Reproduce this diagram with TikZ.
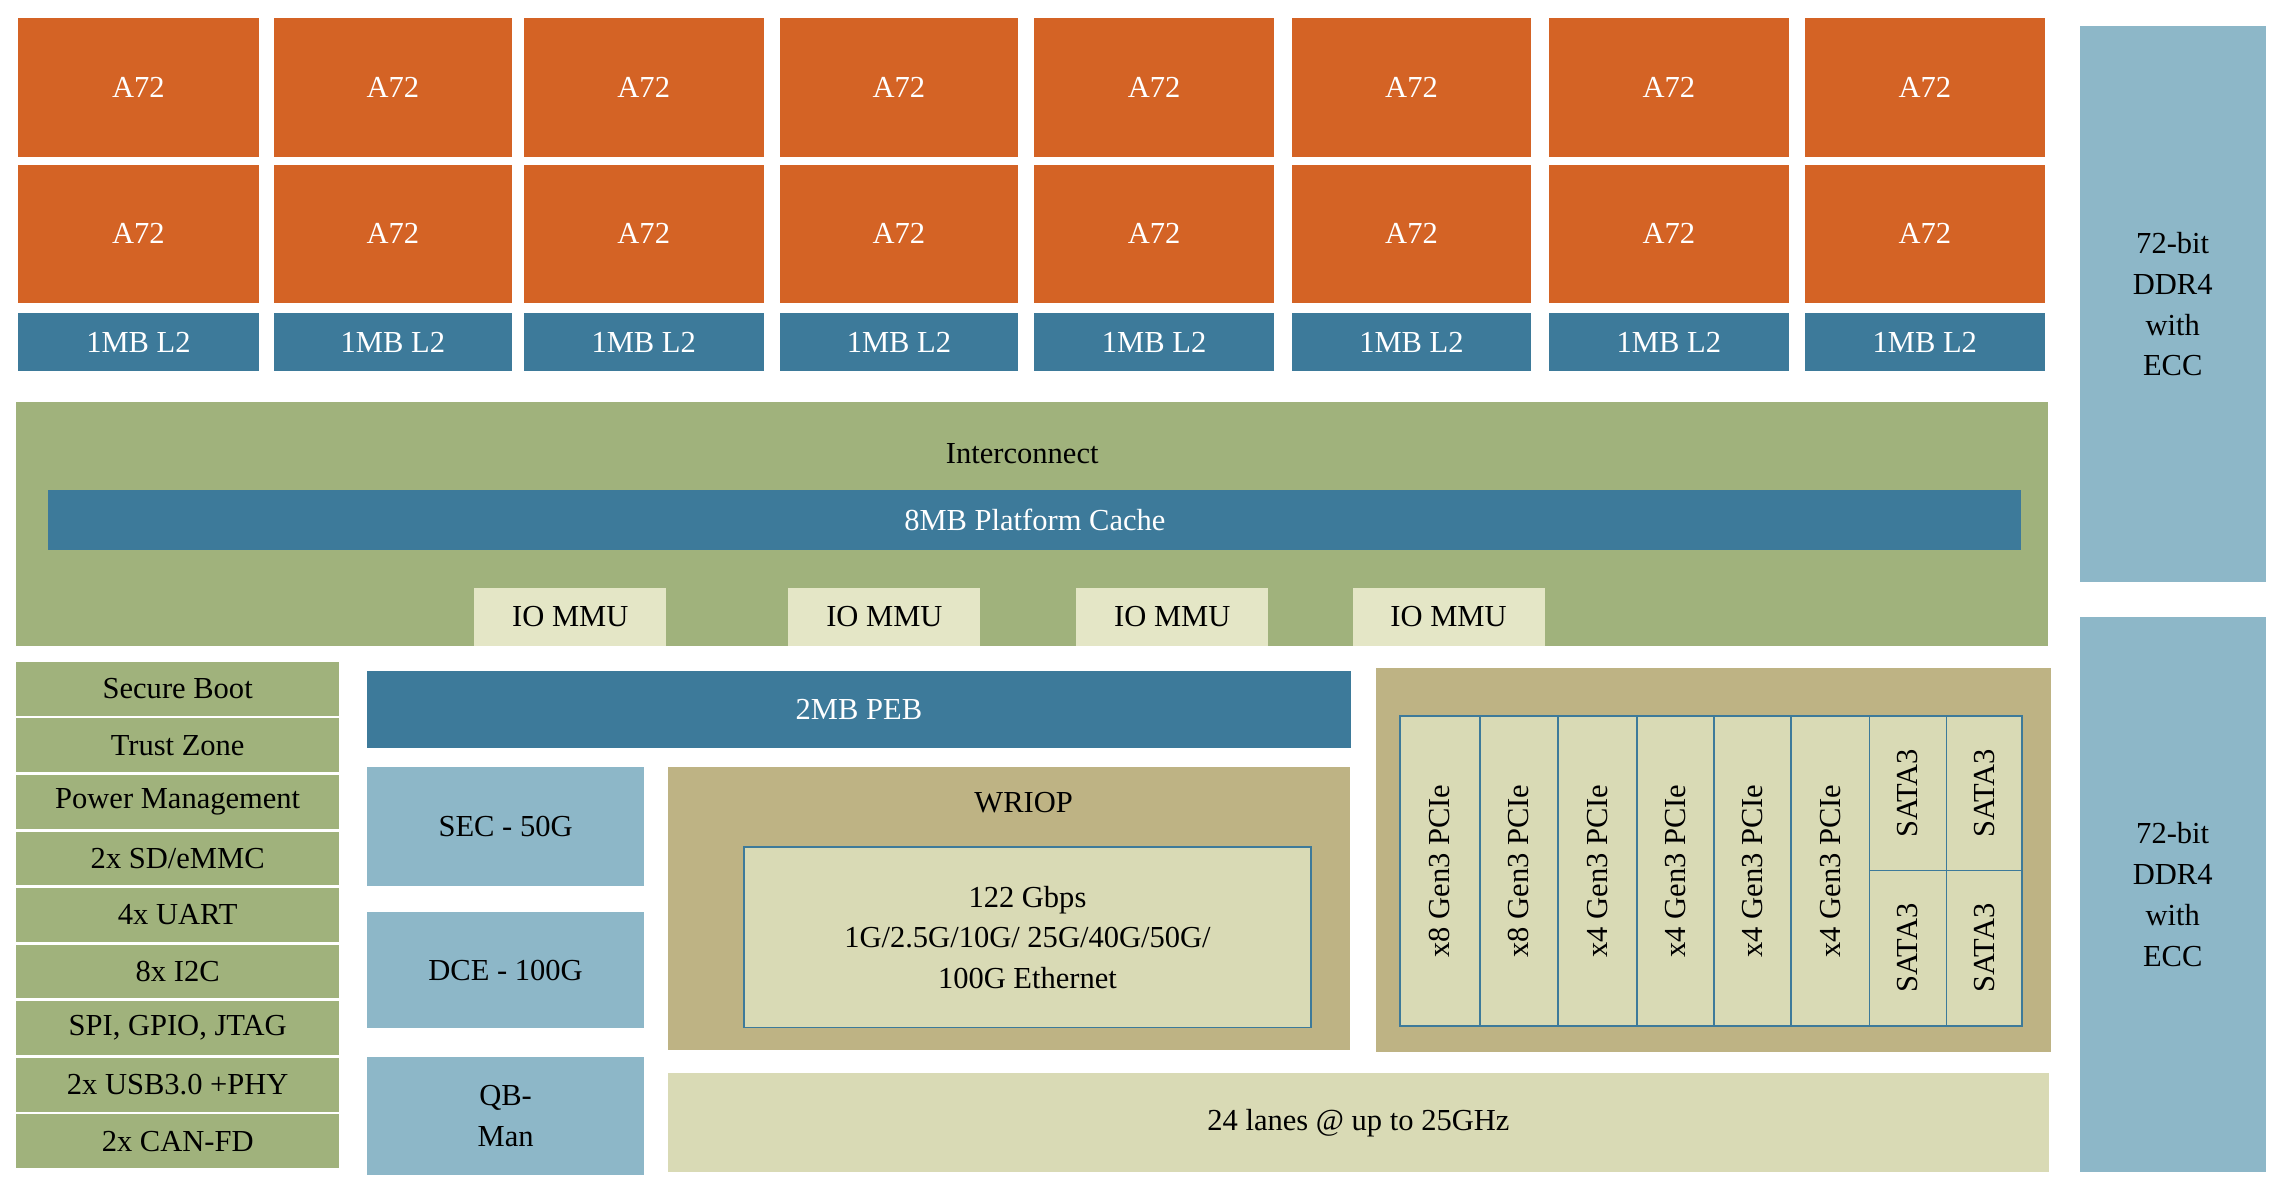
\documentclass[tikz,border=0pt]{standalone}
\usepackage{fontspec}
\setmainfont{Liberation Serif}
\definecolor{coreorange}{HTML}{D46325}
\definecolor{cacheblue}{HTML}{3D7A9A}
\definecolor{fabgreen}{HTML}{A0B27C}
\definecolor{mmucream}{HTML}{E4E6C6}
\definecolor{accblue}{HTML}{8DB7C8}
\definecolor{iotan}{HTML}{BEB384}
\definecolor{laneyel}{HTML}{D9DAB5}
\definecolor{ddrblue}{HTML}{8DB7C8}
\tikzset{
  blk/.style={inner sep=0pt, anchor=north west, align=center, font=\fontsize{21}{28}\selectfont},
  core/.style={blk, fill=coreorange, text=white},
  cache/.style={blk, fill=cacheblue, text=white},
  fab/.style={blk, fill=fabgreen},
  mmu/.style={blk, fill=mmucream},
  acc/.style={blk, fill=accblue},
  lane/.style={blk, fill=laneyel, draw=cacheblue, line width=1.2pt}
}
% box from (x1,y1) to (x2,y2)
\newcommand\blkat[7]{\node[#2, minimum width={(#5-#3)*1pt}, minimum height={(#6-#4)*1pt}] (#1) at (#3,#4) {#7};}
\begin{document}
\begin{tikzpicture}[x=1pt,y=-1pt]
\useasboundingbox (0,0) rectangle (1568,822);
% cores
\foreach \xa/\xb [count=\i] in {12/178,188/352,360/525,536/700,711/876,888/1053,1065/1230,1241/1406}{
  \blkat{core-a\i}{core}{\xa}{12}{\xb}{108}{A72}
  \blkat{core-b\i}{core}{\xa}{113}{\xb}{208}{A72}
  \blkat{l2-\i}{cache}{\xa}{215}{\xb}{255}{1MB L2}
}
% memory
\blkat{ddr1}{acc}{1430}{18}{1558}{400}{72-bit\\DDR4\\with\\ECC}
\blkat{ddr2}{acc}{1430}{424}{1558}{806}{72-bit\\DDR4\\with\\ECC}
% interconnect
\blkat{ic}{fab}{11}{276}{1408}{444}{}
\node[font=\fontsize{21}{28}\selectfont] (ictext) at (703,312) {Interconnect};
\blkat{plc}{cache}{33}{337}{1390}{378}{8MB Platform Cache}
\foreach \xa/\xb [count=\i] in {326/458,542/674,740/872,930/1062}{
  \blkat{mmu\i}{mmu}{\xa}{404}{\xb}{444}{IO MMU}
}
% peripherals list
\foreach \t [count=\i] in {Secure Boot,Trust Zone,Power Management,2x SD/eMMC,4x UART,8x I2C,{SPI, GPIO, JTAG},2x USB3.0 +PHY,2x CAN-FD}{
  \pgfmathsetmacro\ya{455+(\i-1)*38.9}
  \pgfmathsetmacro\yb{\ya+36.9}
  \blkat{per\i}{fab}{11}{\ya}{233}{\yb}{\t}
}
% accelerators
\blkat{peb}{cache}{252}{461}{929}{514}{2MB PEB}
\blkat{sec}{acc}{252}{527}{443}{609}{SEC - 50G}
\blkat{dce}{acc}{252}{627}{443}{707}{DCE - 100G}
\blkat{qbm}{acc}{252}{727}{443}{808}{QB-\\Man}
% WRIOP
\blkat{wriop}{blk,fill=iotan}{459}{527}{928}{722}{}
\node[font=\fontsize{21}{28}\selectfont] (wrtext) at (704,552) {WRIOP};
\blkat{eth}{lane}{511}{582}{901}{706}{122 Gbps\\1G/2.5G/10G/ 25G/40G/50G/\\100G Ethernet}
\blkat{lanes}{mmu,fill=laneyel}{459}{738}{1409}{806}{24 lanes @ up to 25GHz}
% serdes
\blkat{serdes}{blk,fill=iotan}{946}{459}{1410}{723}{}
\foreach \xa/\xb/\t [count=\i] in {962/1017/x8 Gen3 PCIe,1017/1071/x8 Gen3 PCIe,1071/1125/x4 Gen3 PCIe,1125/1178/x4 Gen3 PCIe,1178/1231/x4 Gen3 PCIe,1231/1285/x4 Gen3 PCIe}{
  \blkat{pcie\i}{lane}{\xa}{492}{\xb}{705}{}
  \node[rotate=90, font=\fontsize{21}{28}\selectfont] at (pcie\i.center) {\t};
}
\foreach \xa/\xb [count=\i] in {1285/1338,1338/1390}{
  \blkat{sata-a\i}{lane}{\xa}{492}{\xb}{598}{}
  \node[rotate=90, font=\fontsize{21}{28}\selectfont] at (sata-a\i.center) {SATA3};
  \blkat{sata-b\i}{lane}{\xa}{598}{\xb}{705}{}
  \node[rotate=90, font=\fontsize{21}{28}\selectfont] at (sata-b\i.center) {SATA3};
}
\end{tikzpicture}
\end{document}
